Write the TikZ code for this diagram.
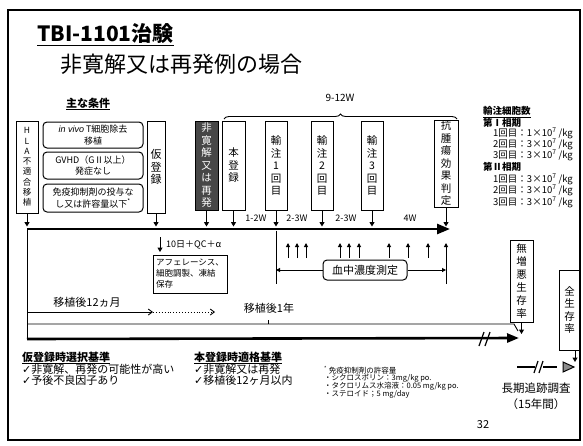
\documentclass[tikz,border=0pt]{standalone}
\usepackage{fontspec}
\setmainfont{Noto Sans CJK JP}
\newfontfamily\djv{DejaVu Sans}
\newfontfamily\itf{Liberation Sans}
\usetikzlibrary{arrows.meta,decorations.pathreplacing}
\newcommand\fs[2]{\fontsize{#1}{#2}\selectfont}
\tikzset{
  vbox/.style={draw,line width=1pt,inner sep=0pt,align=center,font=\fs{10.5}{12.5}},
  rbox/.style={draw,rounded corners=4pt,line width=1pt,inner sep=0pt,align=center,font=\fs{9}{11.5}},
  darr/.style={-{Triangle[length=4.5pt,width=5pt]},line width=1pt},
  uarr/.style={-{Triangle[length=4pt,width=4pt]},line width=1pt},
  lbl/.style={inner sep=0pt,font=\fs{9}{11}},
  thin/.style={line width=0.9pt},
}
\begin{document}
\begin{tikzpicture}[x=1pt,y=-1pt]
\useasboundingbox (0,0) rectangle (583,445);
\fill[white] (0,0) rectangle (583,445);
\draw[line width=1.5pt] (8,10) rectangle (580,440);

% titles
\node[anchor=west,inner sep=0pt,font=\fs{21}{24}\bfseries] (title) at (37,35) {\underline{TBI-1101治験}};
\node[anchor=west,inner sep=0pt,font=\fs{22}{26}] (sub) at (60,64) {非寛解又は再発例の場合};
\node[inner sep=0pt,font=\fs{11}{13}\bfseries] (jou) at (88,104) {\underline{主な条件}};

% boxes
\node[vbox,font=\fs{8.5}{10.3},minimum width=22pt,minimum height=92pt] (hla) at (27,167) {H\\L\\A\\不\\適\\合\\移\\植};
\node[rbox,minimum width=100pt,minimum height=26pt] (c1) at (93,135) {{\itf\itshape in vivo} T細胞除去\\移植};
\node[rbox,minimum width=100pt,minimum height=27pt] (c2) at (93,165.5) {GVHD（GⅡ以上）\\発症なし};
\node[rbox,minimum width=100pt,minimum height=28pt] (c3) at (93,198) {免疫抑制剤の投与な\\し又は許容量以下\textsuperscript{*}};
\node[vbox,font=\fs{11}{12.5},minimum width=18pt,minimum height=92pt] (kari) at (156,167) {仮\\登\\録};
\node[vbox,fill=black!72,text=white,minimum width=23pt,minimum height=89pt] (hik) at (206.5,165.5) {非\\寛\\解\\又\\は\\再\\発};
\node[vbox,minimum width=23pt,minimum height=89pt] (hon) at (233.5,165.5) {本\\登\\録};
\node[vbox,minimum width=22pt,minimum height=89pt] (y1) at (276,165.5) {輸\\注\\1\\回\\目};
\node[vbox,minimum width=22pt,minimum height=89pt] (y2) at (322,165.5) {輸\\注\\2\\回\\目};
\node[vbox,minimum width=22pt,minimum height=89pt] (y3) at (372,165.5) {輸\\注\\3\\回\\目};
\node[vbox,minimum width=24pt,minimum height=87pt] (kou) at (446,163.5) {抗\\腫\\瘍\\効\\果\\判\\定};

% brace
\coordinate (brL) at (224,119);
\coordinate (brR) at (457,119);
\draw[thin,decorate,decoration={brace,amplitude=5pt}] (brL) -- (brR);
\node[lbl,font=\fs{10}{12}] (w912) at (340,98) {9-12W};

% main line
\coordinate (mlL) at (27,229);
\coordinate (mlR) at (450,229);
\coordinate (mlT) at (0,226.5);
\draw[line width=2.6pt,-{Triangle[length=13pt,width=10pt]}] (mlL) -- (mlR);
\foreach \b in {hla,kari,hik,hon,y1,y2,y3,kou}{
  \draw[darr] (\b.south) -- (\b.south |- mlT);
}
\node[lbl] (w12) at (256,218) {1-2W};
\node[lbl] (w23a) at (297,218) {2-3W};
\node[lbl] (w23b) at (346,218) {2-3W};
\node[lbl] (w4) at (410,218) {4W};

% measurement
\coordinate (v1a) at (276,230.5);
\coordinate (v1b) at (276,284);
\draw[thin] (v1a) -- (v1b);
\coordinate (v2a) at (446,243);
\coordinate (v2b) at (446,284);
\draw[uarr] (v2b) -- (v2a);
\foreach \x [count=\i] in {288,297,306,340,349,359,389,408,428}{
  \coordinate (ua\i) at (\x,258);
  \coordinate (ub\i) at (\x,243);
  \draw[uarr] (ua\i) -- (ub\i);
}
\node[rbox,font=\fs{11}{13},minimum width=84pt,minimum height=20pt] (ket) at (365,270) {血中濃度測定};
\draw[uarr] (ket.west) -- (ket.west -| v1a);
\draw[uarr] (ket.east) -- (ket.east -| v2a);

% apheresis
\coordinate (qa) at (160,237);
\coordinate (qb) at (160,252);
\draw[darr] (qa) -- (qb);
\node[lbl,anchor=west] (qc) at (166,245) {10日＋QC＋α};
\node[draw,line width=1pt,minimum height=38pt,align=left,font=\fs{8.5}{11},inner sep=3pt,text width=68pt] (aph) at (190,274) {アフェレーシス、\\細胞調製、凍結\\保存};

% 12 months
\node[lbl,font=\fs{11}{13}] (m12) at (87,302) {移植後12ヵ月};
\coordinate (m12a) at (27,312);
\coordinate (m12b) at (153,312);
\coordinate (m12c) at (215,312);
\draw[thin,-{Straight Barb[length=4pt,width=6pt]}] (m12a) -- (m12b);
\draw[thin,dotted,-{Straight Barb[length=4pt,width=6pt]}] (m12b) -- (m12c);
\node[lbl,font=\fs{11}{13}] (y1n) at (269,308) {移植後1年};
\coordinate (t1a) at (27,324);
\coordinate (t1b) at (514,324);
\coordinate (t1c) at (518,331);
\draw[thin] (t1a) -- (t1b) -- (t1c);
\coordinate (tk1) at (268,324);
\coordinate (tk2) at (268,320);
\draw[thin] (tk1) -- (tk2);

% lower thick line
\coordinate (b1a) at (27,339);
\coordinate (b1b) at (519,338);
\draw[line width=2.6pt,-{Triangle[length=12pt,width=9pt]}] (b1a) -- (b1b);
\draw[line width=1.2pt] (479,346) -- (484,332) (485,346) -- (490,332);
\draw[thin] (mlL) -- (b1a);

% survival boxes
\node[vbox,font=\fs{10.5}{13},minimum width=23pt,minimum height=82pt] (mu) at (521.5,281) {無\\増\\悪\\生\\存\\率};
\coordinate (mub) at (521.5,334);
\draw[darr] (mu.south) -- (mub);
\node[vbox,minimum width=21pt,minimum height=80pt] (zen) at (569.5,310) {全\\生\\存\\率};
\coordinate (za) at (575,350);
\coordinate (zb) at (575,362);
\draw[darr] (za) -- (zb);

% long term follow-up
\coordinate (lt1) at (517,367);
\coordinate (lt2) at (535,367);
\coordinate (lt3) at (543,367);
\coordinate (lt4) at (557,367);
\draw[line width=2pt] (lt1) -- (lt2);
\draw[line width=2pt] (lt3) -- (lt4);
\draw[line width=1.2pt] (534,373) -- (538,361) (539,373) -- (543,361);
\draw[line width=1pt,fill=black!45] (563,362) -- (574,367) -- (563,372) -- cycle;
\node[inner sep=0pt,font=\fs{11.5}{14}] (choki) at (536,388) {長期追跡調査};
\node[inner sep=0pt,font=\fs{11.5}{14}] (nen) at (536,404) {（15年間）};

% infusion cell counts
\node[lbl,anchor=west,font=\fs{9.5}{11}\bfseries] (yc) at (483,112) {\underline{輸注細胞数}};
\node[lbl,anchor=west,font=\fs{9.5}{11}\bfseries] (p1) at (483,123) {第Ⅰ相期};
\node[lbl,anchor=west,font=\fs{9.5}{11}] (p1a) at (493,133) {1回目：1×10\textsuperscript{7} /kg};
\node[lbl,anchor=west,font=\fs{9.5}{11}] (p1b) at (493,144) {2回目：3×10\textsuperscript{7} /kg};
\node[lbl,anchor=west,font=\fs{9.5}{11}] (p1c) at (493,155) {3回目：3×10\textsuperscript{7} /kg};
\node[lbl,anchor=west,font=\fs{9.5}{11}\bfseries] (p2) at (483,167) {第Ⅱ相期};
\node[lbl,anchor=west,font=\fs{9.5}{11}] (p2a) at (493,179) {1回目：3×10\textsuperscript{7} /kg};
\node[lbl,anchor=west,font=\fs{9.5}{11}] (p2b) at (493,190) {2回目：3×10\textsuperscript{7} /kg};
\node[lbl,anchor=west,font=\fs{9.5}{11}] (p2c) at (493,202) {3回目：3×10\textsuperscript{7} /kg};

% criteria
\node[lbl,anchor=west,font=\fs{11}{13}\bfseries] (kk) at (22,358) {\underline{仮登録時選択基準}};
\node[lbl,anchor=west,font=\fs{11}{13}] (kk1) at (22,369) {{\djv ✓}非寛解、再発の可能性が高い};
\node[lbl,anchor=west,font=\fs{11}{13}] (kk2) at (22,380) {{\djv ✓}予後不良因子あり};
\node[lbl,anchor=west,font=\fs{11}{13}\bfseries] (hk) at (194,358) {\underline{本登録時適格基準}};
\node[lbl,anchor=west,font=\fs{11}{13}] (hk1) at (194,369) {{\djv ✓}非寛解又は再発};
\node[lbl,anchor=west,font=\fs{11}{13}] (hk2) at (194,380) {{\djv ✓}移植後12ヶ月以内};

% footnote
\node[lbl,anchor=west,font=\fs{7.5}{9}] (f0) at (324,370) {\textsuperscript{*} 免疫抑制剤の許容量};
\node[lbl,anchor=west,font=\fs{7.5}{9}] (f1) at (324,378) {・シクロスポリン：3mg/kg po.};
\node[lbl,anchor=west,font=\fs{7.5}{9}] (f2) at (324,386) {・タクロリムス水溶液：0.05 mg/kg po.};
\node[lbl,anchor=west,font=\fs{7.5}{9}] (f3) at (324,394) {・ステロイド；5 mg/day};

\node[inner sep=0pt,font=\fs{11}{13}] (pg) at (483,425) {32};
\end{tikzpicture}
\end{document}
